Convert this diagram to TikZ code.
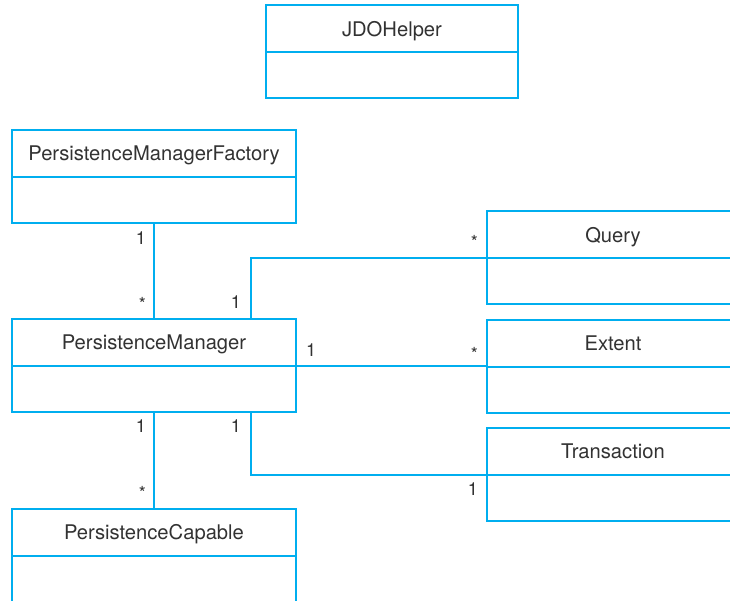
\documentclass[tikz,border=0pt]{standalone}
\usepackage{fontspec}
\setmainfont{TeX Gyre Heros}
\usepackage{tikz}
\usetikzlibrary{positioning}

\definecolor{umlblue}{RGB}{0,174,239}
\definecolor{umltext}{RGB}{50,50,50}

\tikzset{
  classname/.style={draw=umlblue, line width=2pt, minimum height=47pt, outer sep=0pt,
    inner sep=0pt, text depth=0pt, font=\fontsize{20.2}{22}\selectfont, text=umltext},
  classbody/.style={draw=umlblue, line width=2pt, minimum height=46pt, outer sep=0pt,
    inner sep=0pt},
  link/.style={draw=umlblue, line width=2pt},
  mult/.style={font=\fontsize{18}{20}\selectfont, text=umltext, inner sep=0pt}
}

\begin{document}
\begin{tikzpicture}[x=1pt, y=-1pt]
  \useasboundingbox (0,0) rectangle (730,601);

  % classes on the left
  \node[classname, minimum width=252pt] (jdo) at (392,28.5) {JDOHelper};
  \node[classbody, minimum width=252pt, below=0pt of jdo] (jdo-b) {};

  \node[classname, minimum width=284pt] (pmf) at (154,153.5) {PersistenceManagerFactory};
  \node[classbody, minimum width=284pt, below=0pt of pmf] (pmf-b) {};

  \node[classname, minimum width=284pt] (pm) at (154,342.5) {PersistenceManager};
  \node[classbody, minimum width=284pt, below=0pt of pm] (pm-b) {};

  \node[classname, minimum width=284pt] (pc) at (154,532) {PersistenceCapable};
  \node[classbody, minimum width=284pt, below=0pt of pc] (pc-b) {};

  % classes on the right (cut by the page edge)
  \node[classname, minimum width=252pt] (query) at (613,234.5) {Query};
  \node[classbody, minimum width=252pt, below=0pt of query] (query-b) {};

  \node[classname, minimum width=252pt] (extent) at (613,343.5) {Extent};
  \node[classbody, minimum width=252pt, below=0pt of extent] (extent-b) {};

  \node[classname, minimum width=252pt] (trans) at (613,451) {Transaction};
  \node[classbody, minimum width=252pt, below=0pt of trans] (trans-b) {};

  % associations
  \draw[link] (pmf-b.south) -- (pm.north);
  \draw[link] ([xshift=-45pt]pm.north east) |- (query-b.north west);
  \draw[link] (pm-b.north east) -- (pm-b.north east -| extent-b.west);
  \draw[link] ([xshift=-45pt]pm-b.south east) |- (trans-b.north west);
  \draw[link] (pm-b.south) -- (pc.north);

  % multiplicities
  \node[mult, anchor=east] (m-pmf) at (146,238) {1};
  \node[mult, anchor=east] (m-pm1) at (146,304) {*};
  \node[mult, anchor=east] (m-pm2) at (241,302) {1};
  \node[mult, anchor=east] (m-q) at (478,242) {*};
  \node[mult, anchor=west] (m-pm3) at (306,350) {1};
  \node[mult, anchor=east] (m-ext) at (478,354) {*};
  \node[mult, anchor=east] (m-pm4) at (146,426) {1};
  \node[mult, anchor=east] (m-pm5) at (241,426) {1};
  \node[mult, anchor=east] (m-pc) at (146,493) {*};
  \node[mult, anchor=east] (m-tr) at (478,489) {1};
\end{tikzpicture}
\end{document}
